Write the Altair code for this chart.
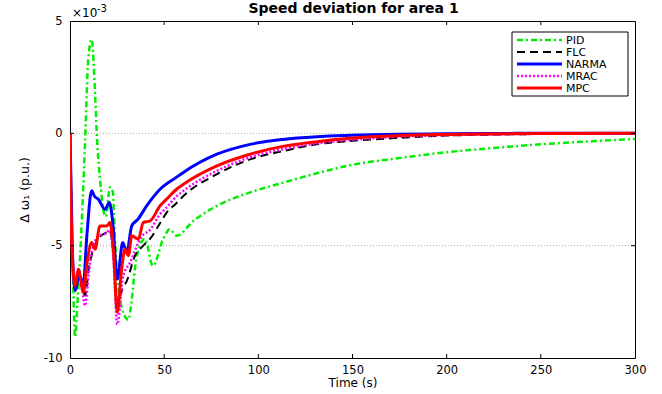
import altair as alt
import pandas as pd

# ---- data (speed deviation, in units of 1e-3 p.u.) ----
series_names = ["PID", "FLC", "NARMA", "MRAC", "MPC"]

pid_t = [0, 1.5, 2.7, 4, 5.3, 8, 9.7, 11.5, 13.3, 14.2, 16, 17.7, 19.1, 21.2, 22.7, 24, 26.5, 30.9, 32.8,
         34.5, 37, 39.8, 44, 49.5, 53, 56.6, 65.5, 78, 95.6, 113, 131, 148.7, 175, 200, 225, 250, 275, 300]
pid_v = [0, -6, -9.07, -7.5, -5.6, -0.4, 3.3, 4.18, 1.8, 0, -2.1, -3.4, -3.7, -2.4, -2.6, -4.9, -7.4, -8.3, -7.4,
         -6.0, -5.0, -4.7, -5.9, -4.7, -4.27, -4.56, -3.9, -3.23, -2.63, -2.2, -1.78, -1.42, -1.1, -0.84, -0.65,
         -0.49, -0.36, -0.25]

flc_t = [0, 1, 2.7, 4.4, 6, 8, 10, 12.4, 15, 19.5, 21, 23, 25.1, 28, 30, 34.5, 38.9, 42.5, 47.8, 51.3, 56.6,
         60.2, 78, 95.6, 113, 131, 148.7, 175, 200, 250, 300]
flc_v = [0, -5, -6.6, -6.1, -6.6, -7.2, -6.0, -5.16, -4.7, -4.4, -4.3, -5.3, -7.5, -6.9, -6.6, -5.45, -5.0, -4.7,
         -4.0, -3.53, -3.1, -2.79, -1.82, -1.16, -0.79, -0.49, -0.34, -0.2, -0.1, -0.03, 0]

narma_t = [0, 1.2, 2.7, 4, 5.3, 7, 9, 11.5, 13, 15, 18.6, 20.9, 22.7, 25.1, 28, 30.1, 32.8, 36, 40.7, 47.8,
           56.6, 60, 78, 95.6, 113, 131, 148.7, 175, 200, 250, 300]
narma_v = [0, -5, -7.0, -6.6, -6.35, -6.8, -4.5, -2.56, -2.8, -2.93, -3.38, -3.08, -3.97, -6.49, -4.86, -5.3,
           -4.12, -3.83, -3.23, -2.49, -1.95, -1.75, -0.93, -0.49, -0.27, -0.15, -0.09, -0.04, -0.02, 0, 0]

mrac_t = [0, 1, 2.7, 4.4, 6, 8, 10, 12.4, 15, 19.5, 21, 23, 25.1, 28.3, 31.9, 36.3, 38, 42.5, 47.8, 51.3, 56.6,
          60.2, 78, 95.6, 113, 131, 148.7, 175, 200, 250, 300]
mrac_v = [0, -5, -6.6, -6.05, -6.6, -7.67, -6.2, -5.0, -4.6, -4.42, -4.3, -5.5, -8.5, -6.34, -5.75, -4.86, -4.6,
          -4.3, -3.6, -3.3, -2.8, -2.56, -1.67, -1.07, -0.71, -0.45, -0.3, -0.15, -0.08, -0.02, 0]

mpc_t = [0, 1, 2.7, 4.4, 7.1, 9, 11.5, 13.3, 15.9, 19.5, 21.2, 23, 25.1, 27.4, 29.2, 31, 32.8, 36.3, 38.9, 42.5,
         47.8, 51.3, 56.6, 60.2, 78, 95.6, 113, 131, 148.7, 175, 200, 250, 300]
mpc_v = [0, -5, -6.8, -6.05, -7.07, -5.8, -4.86, -5.16, -4.12, -4.12, -3.97, -5.16, -7.97, -6.05, -5.16, -5.45,
         -4.56, -4.71, -3.97, -3.9, -3.23, -2.93, -2.49, -2.27, -1.45, -0.93, -0.58, -0.37, -0.22, -0.1, -0.05,
         -0.01, 0]

x_tick_values = [0, 50, 100, 150, 200, 250, 300]
y_tick_values = [-10, -5, 0, 5]
grid_values = [-5, 0]
inner_x_ticks = [50, 100, 150, 200, 250]
inner_y_ticks = [-5, 0]

series_data = {
    "PID": (pid_t, pid_v),
    "FLC": (flc_t, flc_v),
    "NARMA": (narma_t, narma_v),
    "MRAC": (mrac_t, mrac_v),
    "MPC": (mpc_t, mpc_v),
}

styles = {
    "PID": dict(color="#00EE00", strokeWidth=2.5, strokeDash=[6, 3, 2, 3]),
    "FLC": dict(color="#000000", strokeWidth=2, strokeDash=[8, 5]),
    "NARMA": dict(color="#0000FF", strokeWidth=3),
    "MRAC": dict(color="#FF00FF", strokeWidth=2.5, strokeDash=[2, 2]),
    "MPC": dict(color="#FF0000", strokeWidth=3),
}

frames = [pd.DataFrame({"series": n, "time": series_data[n][0], "dw": series_data[n][1]}) for n in series_names]
df = pd.concat(frames, ignore_index=True)

W, H = 565, 337
FONT = "DejaVu Sans"

x_scale = alt.Scale(domain=[0, 300], nice=False, zero=False)
y_scale = alt.Scale(domain=[-10, 5], nice=False, zero=False)

x_axis = alt.Axis(values=x_tick_values, title="Time (s)", ticks=False, tickSize=0, grid=False, domain=False,
                  labelFont=FONT, labelFontSize=11.5, labelColor="black", labelPadding=6,
                  titleFont=FONT, titleFontSize=12, titleFontWeight="normal", titleColor="black",
                  titleY=28, titleBaseline="alphabetic", labelFlush=False)
y_axis = alt.Axis(values=y_tick_values, title="Δ ω₁ (p.u.)", ticks=False, tickSize=0, grid=False, domain=False,
                  labelFont=FONT, labelFontSize=11.5, labelColor="black", labelPadding=8,
                  labelExpr="'' + datum.value", labelFlush=False,
                  titleFont=FONT, titleFontSize=12.5, titleFontWeight="normal", titleColor="black",
                  titleX=-42, titleY=H / 2, titleAngle=270, titleBaseline="alphabetic", titleAlign="center")


def X(field):
    return alt.X(field, type="quantitative", scale=x_scale, axis=x_axis)


def Y(field):
    return alt.Y(field, type="quantitative", scale=y_scale, axis=y_axis)


one = pd.DataFrame({"k": [0]})
layers = []

# dotted grid lines
grid_df = pd.DataFrame({"dw": grid_values})
layers.append(alt.Chart(grid_df).mark_rule(color="#A8A8A8", strokeWidth=1, strokeDash=[1, 2]).encode(
    y=Y("dw"), x=alt.value(0), x2=alt.value(W)))

# series lines
for n in series_names:
    st = styles[n]
    kw = dict(color=st["color"], strokeWidth=st["strokeWidth"], interpolate="monotone", clip=True)
    if "strokeDash" in st:
        kw["strokeDash"] = st["strokeDash"]
    layers.append(alt.Chart(df).transform_filter(alt.datum.series == n).mark_line(**kw).encode(
        x=X("time"), y=Y("dw")))

# inward tick marks
xt = pd.DataFrame({"time": inner_x_ticks})
yt = pd.DataFrame({"dw": inner_y_ticks})
layers.append(alt.Chart(xt).mark_rule(color="black").encode(x=X("time"), y=alt.value(H), y2=alt.value(H - 4)))
layers.append(alt.Chart(xt).mark_rule(color="black").encode(x=X("time"), y=alt.value(0), y2=alt.value(4)))
layers.append(alt.Chart(yt).mark_rule(color="black").encode(y=Y("dw"), x=alt.value(0), x2=alt.value(4)))
layers.append(alt.Chart(yt).mark_rule(color="black").encode(y=Y("dw"), x=alt.value(W - 4), x2=alt.value(W)))

# exponent label
layers.append(alt.Chart(one).mark_text(text="×10", font=FONT, fontSize=12, align="left",
                                       baseline="alphabetic", color="black").encode(
    x=alt.value(2), y=alt.value(-4)))
layers.append(alt.Chart(one).mark_text(text="-3", font=FONT, fontSize=10, align="left",
                                       baseline="alphabetic", color="black").encode(
    x=alt.value(27), y=alt.value(-9)))

# title
layers.append(alt.Chart(one).mark_text(text="Speed deviation for area 1", font=FONT, fontSize=14,
                                       fontWeight="bold", align="center", baseline="alphabetic",
                                       color="black").encode(
    x=alt.value(W / 2 + 1), y=alt.value(-8)))

# legend
lx0, lx1, ly0, ly1 = 442, 558, 11, 75
layers.append(alt.Chart(one).mark_rect(fill="white", stroke="black", strokeWidth=1).encode(
    x=alt.value(lx0), x2=alt.value(lx1), y=alt.value(ly0), y2=alt.value(ly1)))
for i, n in enumerate(series_names):
    st = styles[n]
    yy = 19 + 12 * i
    kw = dict(color=st["color"], strokeWidth=st["strokeWidth"])
    if "strokeDash" in st:
        kw["strokeDash"] = st["strokeDash"]
    layers.append(alt.Chart(one).mark_rule(**kw).encode(
        x=alt.value(447), x2=alt.value(492), y=alt.value(yy)))
    layers.append(alt.Chart(one).mark_text(text=n, font=FONT, fontSize=11, align="left", baseline="middle",
                                           color="black").encode(
        x=alt.value(496), y=alt.value(yy + 0.5)))

chart = alt.layer(*layers).properties(
    width=W, height=H,
    padding={"left": 70, "top": 21, "right": 27, "bottom": 36},
    autosize="none",
    background="white",
).configure_view(stroke="black", strokeWidth=1)

chart.save("out.html", embed_options={"renderer": "svg", "actions": False})
